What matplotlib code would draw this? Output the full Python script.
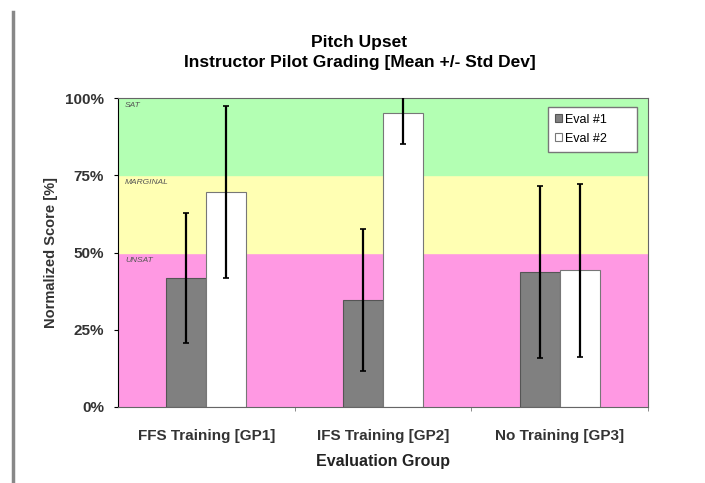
import matplotlib
matplotlib.use('Agg')
import matplotlib.pyplot as plt
import numpy as np

plt.rcParams['font.family'] = ['Liberation Sans', 'DejaVu Sans']

groups = ['FFS Training [GP1]', 'IFS Training [GP2]', 'No Training [GP3]']
eval1_mean = [41.8, 34.7, 43.6]
eval1_sd = [21.0, 22.9, 27.8]
eval2_mean = [69.6, 95.0, 44.2]
eval2_sd = [27.8, 10.0, 28.0]

band_edges = [0, 50, 75, 100]
band_names = ['UNSAT', 'MARGINAL', 'SAT']
band_colors = ['#ff99e3', '#ffffb3', '#b3ffb3']

fig = plt.figure(figsize=(7.05, 4.83), dpi=100)
ax = fig.add_axes([118/705, 1-407/483, 530/705, 309/483])

# grading bands
for lo, hi, name, c in zip(band_edges[:-1], band_edges[1:], band_names, band_colors):
    ax.axhspan(lo, hi, color=c, zorder=0)
    ax.text(-0.46, hi - 2.5, name, fontsize=6, style='italic', color='#555555',
            va='center', ha='left', zorder=1)

x = np.arange(len(groups))
w = 0.227
ax.bar(x - w/2, eval1_mean, w, color='#808080', edgecolor='#555555', lw=0.8,
       label='Eval #1', zorder=2)
ax.bar(x + w/2, eval2_mean, w, color='white', edgecolor='#777777', lw=0.8,
       label='Eval #2', zorder=2)
ax.errorbar(x - w/2, eval1_mean, yerr=eval1_sd, fmt='none', ecolor='black',
            elinewidth=1.6, capsize=2, capthick=1.2, zorder=3)
ax.errorbar(x + w/2, eval2_mean, yerr=eval2_sd, fmt='none', ecolor='black',
            elinewidth=1.6, capsize=2, capthick=1.2, zorder=3)

ax.set_xlim(-0.5, 2.5)
ax.set_ylim(0, 100)
ax.set_yticks([0, 25, 50, 75, 100])
ax.set_yticklabels(['0%', '25%', '50%', '75%', '100%'], fontsize=11, fontweight='bold', color='#333333')
ax.set_xticks(x)
ax.set_xticklabels(groups, fontsize=11, fontweight='bold', color='#333333')
ax.set_xticks([0.5, 1.5, 2.5], minor=True)
ax.tick_params(axis='x', which='major', length=0, pad=16)
ax.tick_params(axis='x', which='minor', length=3, color='#777777')
ax.tick_params(axis='y', length=3, pad=7)

for s in ['top', 'right', 'bottom']:
    ax.spines[s].set_color('#666666')
ax.spines['left'].set_color('black')

ax.set_ylabel('Normalized Score [%]', fontsize=10.5, fontweight='bold', color='#333333', labelpad=5)
ax.set_xlabel('Evaluation Group', fontsize=11.5, fontweight='bold', color='#222222', labelpad=8)

fig.text(0.51, 1-42/483, 'Pitch Upset', ha='center', va='center', fontsize=12.5, fontweight='bold')
fig.text(0.51, 1-62/483, 'Instructor Pilot Grading [Mean +/- Std Dev]', ha='center', va='center',
         fontsize=12.5, fontweight='bold')

leg = ax.legend(loc='upper left', bbox_to_anchor=(0.811, 0.971, 0.168, 0.0), mode='expand',
                fontsize=9, frameon=True, fancybox=False, edgecolor='#777777', framealpha=1,
                handlelength=0.6, handleheight=0.6, handletextpad=0.2, borderpad=0.55,
                labelspacing=0.55, borderaxespad=0)
leg.get_frame().set_linewidth(1.0)

# page border line on the left
fig.add_artist(plt.Line2D([13/705, 13/705], [0, 1-12/483], color='#888888', lw=2.5))

fig.savefig('out.png', dpi=100)
